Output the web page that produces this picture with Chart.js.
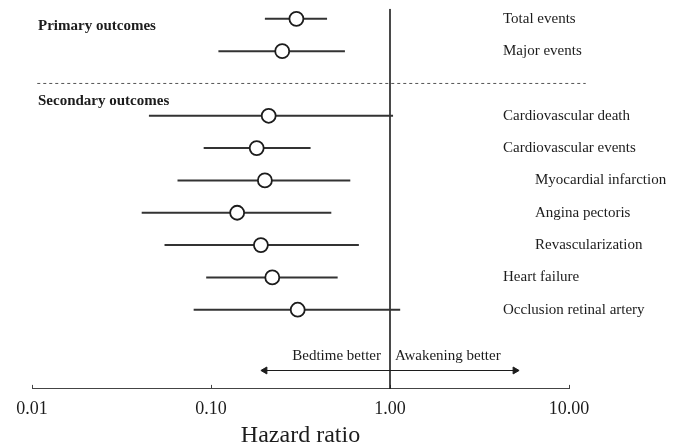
<!DOCTYPE html>
<html>
<head>
<meta charset="utf-8">
<script src="https://cdn.jsdelivr.net/npm/chart.js@4/dist/chart.umd.min.js"></script>
<style>
    body { margin: 0; background: #fff; }
    #wrap { width: 677px; height: 445px; }
</style>
</head>
<body>
<div id="wrap"><canvas id="forest" width="677" height="445"></canvas></div>
<script>
// outcome rows (row index 2 is the gap with the dashed separator)
const outcomes = [
    "Total events",
    "Major events",
    "Cardiovascular death",
    "Cardiovascular events",
    "Myocardial infarction",
    "Angina pectoris",
    "Revascularization",
    "Heart failure",
    "Occlusion retinal artery",
];
const rowIndex = [0, 1, 3, 4, 5, 6, 7, 8, 9];
const indented = [false, false, false, false, true, true, true, false, false];
// hazard ratios with 95% CI
const hazardRatio = [0.3, 0.25, 0.21, 0.18, 0.2, 0.14, 0.19, 0.22, 0.305];
const ciLower = [0.2, 0.11, 0.045, 0.091, 0.065, 0.041, 0.055, 0.094, 0.08];
const ciUpper = [0.445, 0.56, 1.04, 0.36, 0.6, 0.47, 0.67, 0.51, 1.14];
// axis
const tickValues = [0.01, 0.1, 1, 10];
const tickLabels = ["0.01", "0.10", "1.00", "10.00"];
const groupHeadings = ["Primary outcomes", "Secondary outcomes"];
const arrowLabels = ["Bedtime better", "Awakening better"];
const arrowRange = [0.2, 5];

const serif = "'Liberation Serif', 'DejaVu Serif', serif";
const ink = "#1c1c1c";
const yMin = -0.31;
const yMax = 11.45;

// circles first so they are drawn on top
const datasets = [
    {
        data: rowIndex.map((r, i) => ({ x: hazardRatio[i], y: r })),
        showLine: false,
        pointStyle: "circle",
        pointRadius: 7,
        pointBackgroundColor: "#fff",
        pointBorderColor: ink,
        pointBorderWidth: 1.8,
    },
];
// CI whiskers
rowIndex.forEach((r, i) => {
    datasets.push({
        data: [
            { x: ciLower[i], y: r },
            { x: ciUpper[i], y: r },
        ],
        borderColor: "#333",
        borderWidth: 2,
        pointRadius: 0,
        clip: false,
    });
});
// line of no effect
datasets.push({
    data: [
        { x: 1, y: yMin },
        { x: 1, y: yMax },
    ],
    borderColor: ink,
    borderWidth: 1.6,
    pointRadius: 0,
});
// dashed separator between primary and secondary
datasets.push({
    data: [
        { x: 0.0107, y: 2 },
        { x: 12.4, y: 2 },
    ],
    borderColor: "#555",
    borderWidth: 1,
    borderDash: [3, 3],
    pointRadius: 0,
    clip: false,
});
// double arrow under the plot
datasets.push({
    data: [
        { x: arrowRange[0], y: 10.88 },
        { x: arrowRange[1], y: 10.88 },
    ],
    borderColor: ink,
    borderWidth: 1.2,
    pointStyle: "triangle",
    pointRotation: [-90, 90],
    pointRadius: 4,
    pointBackgroundColor: ink,
    pointBorderColor: ink,
    pointBorderWidth: 1,
});

// text labels placed through the scales
const labelPlugin = {
    id: "forestLabels",
    afterDraw(chart) {
        const { ctx, scales } = chart;
        const x = scales.x;
        const y = scales.y;
        const refX = x.getPixelForValue(1);
        ctx.save();
        ctx.fillStyle = ink;
        ctx.textBaseline = "middle";
        ctx.textAlign = "left";
        ctx.font = "15px " + serif;
        outcomes.forEach((name, i) => {
            const px = refX + (indented[i] ? 145 : 113);
            ctx.fillText(name, px, y.getPixelForValue(rowIndex[i]));
        });
        ctx.font = "bold 15px " + serif;
        ctx.fillText(groupHeadings[0], 38, y.getPixelForValue(0.22));
        ctx.fillText(groupHeadings[1], 38, y.getPixelForValue(2.54));
        ctx.font = "15px " + serif;
        ctx.textAlign = "right";
        ctx.fillText(arrowLabels[0], refX - 9, y.getPixelForValue(10.42));
        ctx.textAlign = "left";
        ctx.fillText(arrowLabels[1], refX + 5, y.getPixelForValue(10.42));
        ctx.restore();
    },
};

new Chart(document.getElementById("forest"), {
    type: "line",
    data: { datasets },
    options: {
        responsive: false,
        animation: false,
        layout: {
            padding: { left: 32, right: 108, top: 8, bottom: 0 },
        },
        scales: {
            x: {
                type: "logarithmic",
                min: 0.01,
                max: 10,
                afterBuildTicks: (scale) => {
                    scale.ticks = tickValues.map((v) => ({ value: v }));
                },
                ticks: {
                    autoSkip: false,
                    maxRotation: 0,
                    padding: 14,
                    color: ink,
                    font: { family: serif, size: 18 },
                    callback: (val) => tickLabels[tickValues.indexOf(val)],
                },
                grid: {
                    drawOnChartArea: false,
                    tickLength: -4,
                    tickColor: "#444",
                },
                border: { color: "#444", width: 1 },
                title: {
                    display: true,
                    text: "Hazard ratio",
                    color: ink,
                    font: { family: serif, size: 24, lineHeight: 1 },
                    padding: { top: -11, bottom: -2.5 },
                },
            },
            y: {
                type: "linear",
                display: false,
                reverse: true,
                min: yMin,
                max: yMax,
            },
        },
        plugins: {
            legend: { display: false },
            tooltip: { enabled: false },
        },
    },
    plugins: [labelPlugin],
});
</script>
</body>
</html>
